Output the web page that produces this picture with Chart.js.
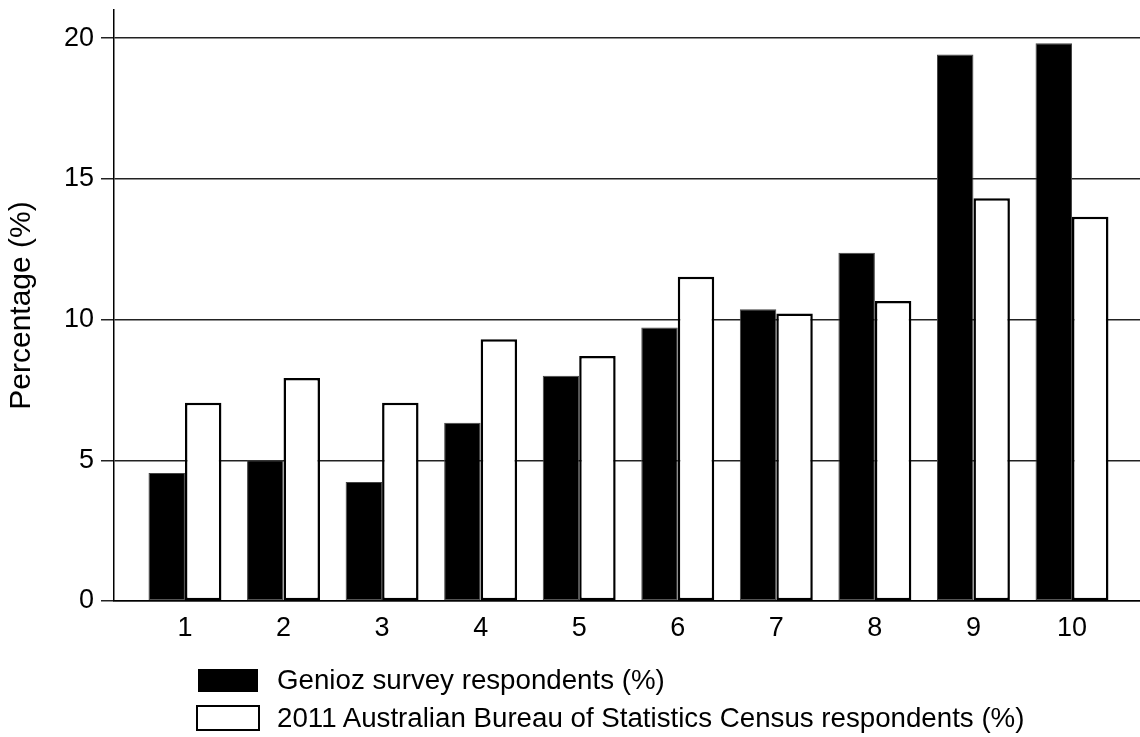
<!DOCTYPE html>
<html>
<head>
<meta charset="utf-8">
<script src="https://cdn.jsdelivr.net/npm/chart.js@4"></script>
<style>
  html, body { margin: 0; padding: 0; background: #fff; }
  #wrap { position: relative; width: 1140px; height: 737px; }
  #grafico { position: absolute; left: 0; top: 0; }
  #leyenda { position: absolute; left: 196px; top: 661px; font-family: "Liberation Sans", Arial, sans-serif; font-size: 27.7px; color: #000; }
  .item { display: flex; align-items: center; height: 38px; }
  .caja { box-sizing: border-box; margin-right: 17px; }
</style>
</head>
<body>
<div id="wrap">
  <canvas id="grafico" width="1140" height="737"></canvas>
  <div id="leyenda"></div>
</div>
<script>
// Datos
const categorias = [1, 2, 3, 4, 5, 6, 7, 8, 9, 10];
const genioz = [4.55, 5.0, 4.23, 6.33, 8.0, 9.72, 10.37, 12.37, 19.42, 19.82];
const censo = [7.04, 7.92, 7.04, 9.30, 8.71, 11.52, 10.22, 10.66, 14.31, 13.65];
const marcasY = [0, 5, 10, 15, 20];
const nombres = ["Genioz survey respondents (%)", "2011 Australian Bureau of Statistics Census respondents (%)"];

const fuente = "'Liberation Sans', Arial, sans-serif";

function puntos(valores) {
  return categorias.map((c, i) => ({ x: c, y: valores[i] }));
}

const ctx = document.getElementById("grafico").getContext("2d");
const chart = new Chart(ctx, {
  type: "bar",
  data: {
    datasets: [{
      label: nombres[0],
      data: puntos(genioz),
      backgroundColor: "#000",
      borderColor: "#444",
      borderWidth: 1,
      borderSkipped: false
    }, {
      label: nombres[1],
      data: puntos(censo),
      backgroundColor: "#fff",
      borderColor: "#000",
      borderWidth: 2.5,
      borderSkipped: false
    }]
  },
  options: {
    responsive: false,
    animation: false,
    devicePixelRatio: 1,
    categoryPercentage: 0.74,
    barPercentage: 1.0,
    layout: { padding: { top: 10, right: 0, left: 0, bottom: 0 } },
    plugins: {
      legend: { display: false },
      tooltip: { enabled: false }
    },
    scales: {
      x: {
        type: "linear",
        offset: false,
        min: 0.28,
        max: 10.69,
        grid: { display: false, offset: false },
        border: { display: true, color: "#000", width: 1.5 },
        ticks: {
          color: "#000",
          font: { family: fuente, size: 27 },
          padding: 3,
          autoSkip: false,
          maxRotation: 0,
          callback: v => String(v)
        },
        afterBuildTicks: s => { s.ticks = categorias.map(c => ({ value: c })); },
        afterFit: s => { s.height = 136; s.paddingLeft = 0; s.paddingRight = 0; }
      },
      y: {
        min: 0,
        max: 21,
        grid: { color: "#222", lineWidth: 1.5, tickLength: 13, tickColor: "#222" },
        border: { display: true, color: "#000", width: 1.5 },
        ticks: {
          color: "#000",
          font: { family: fuente, size: 27 },
          padding: 7,
          stepSize: 5,
          includeBounds: false
        },
        afterBuildTicks: s => { s.ticks = marcasY.map(v => ({ value: v })); },
        title: {
          display: true,
          text: "Percentage (%)",
          color: "#000",
          font: { family: fuente, size: 30 },
          padding: { top: 4, bottom: 0 }
        },
        afterFit: s => { s.width = 114; s.paddingTop = 0; s.paddingBottom = 0; }
      }
    }
  }
});

// Leyenda en HTML, dos renglones alineados a la izquierda
const leyenda = document.getElementById("leyenda");
chart.data.datasets.forEach((ds, i) => {
  const fila = document.createElement("div");
  fila.className = "item";
  const caja = document.createElement("span");
  caja.className = "caja";
  if (i === 0) {
    caja.style.cssText = "width:60px;height:23px;background:#000;margin-left:2px;margin-right:19px;";
  } else {
    caja.style.cssText = "width:64px;height:26px;background:#fff;border:2.5px solid #000;";
  }
  const texto = document.createElement("span");
  texto.textContent = ds.label;
  fila.appendChild(caja);
  fila.appendChild(texto);
  leyenda.appendChild(fila);
});
</script>
</body>
</html>
